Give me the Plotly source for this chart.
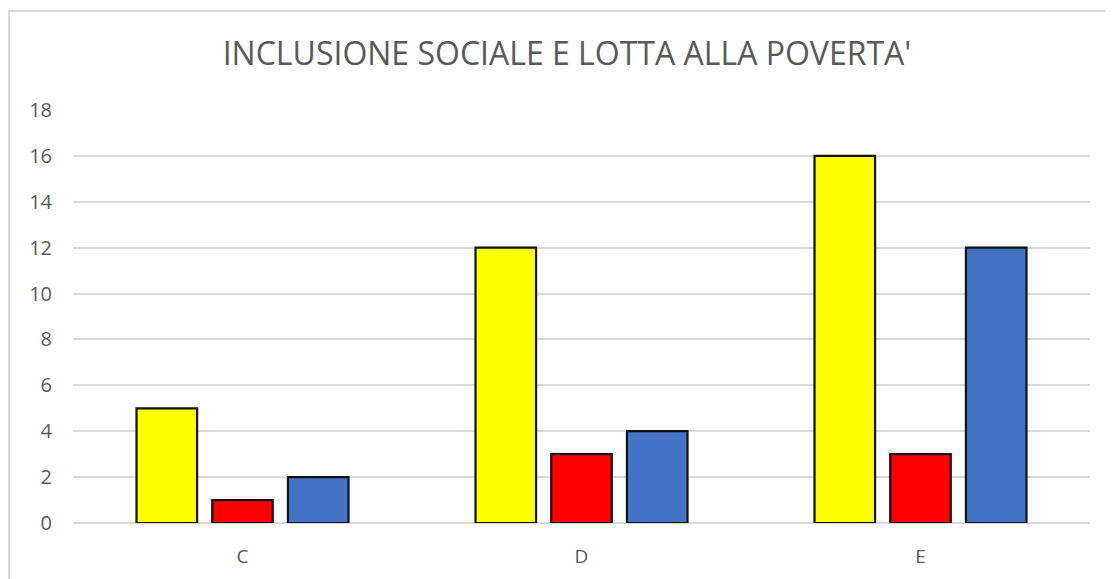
import plotly.graph_objects as go

categories = ["C", "D", "E"]
serie_gialla = [5, 12, 16]
serie_rossa = [1, 3, 3]
serie_blu = [2, 4, 12]
y_ticks = [0, 2, 4, 6, 8, 10, 12, 14, 16, 18]

# the page body adds an 8px offset, so figure coords = screen - 8
W, H = 1113, 579
L, R, T, B = 65, 31, 102, 64
pw, ph = W - L - R, H - T - B

fig = go.Figure()
for name, vals, col in [("Serie1", serie_gialla, "#FFFF00"),
                        ("Serie2", serie_rossa, "#FF0000"),
                        ("Serie3", serie_blu, "#4472C4")]:
    fig.add_trace(go.Bar(x=categories, y=vals, name=name,
                         marker=dict(color=col, line=dict(color="#111111", width=2.2))))

fig.update_layout(
    width=W, height=H,
    margin=dict(l=L, r=R, t=T, b=B),
    paper_bgcolor="white", plot_bgcolor="white",
    barmode="group", bargap=0.33, bargroupgap=0.2,
    showlegend=False,
    title=dict(text="INCLUSIONE SOCIALE E LOTTA ALLA POVERTA'",
               x=(567 - 8) / W, xanchor="center",
               y=1 - 46 / H, yanchor="middle",
               font=dict(family="Open Sans", size=32, color="#595959")),
    font=dict(family="Open Sans", size=19, color="#595959"),
    xaxis=dict(showgrid=False, showline=False, ticks="", ticklabelstandoff=20,
               tickfont=dict(size=19, color="#595959")),
    yaxis=dict(range=[0, 18], tickvals=y_ticks, showgrid=True, gridcolor="#D9D9D9",
               gridwidth=2, zeroline=True, zerolinecolor="#D9D9D9", zerolinewidth=2,
               showline=False, ticks="", ticklabelstandoff=20,
               tickfont=dict(size=20, color="#595959")),
    shapes=[dict(type="rect", xref="paper", yref="paper",
                 x0=(1 - L) / pw, x1=1.2, y0=-0.3, y1=1 + (T - 3) / ph,
                 line=dict(color="#D9D9D9", width=2), fillcolor="rgba(0,0,0,0)",
                 layer="below")],
)

fig.write_html("out.html")
